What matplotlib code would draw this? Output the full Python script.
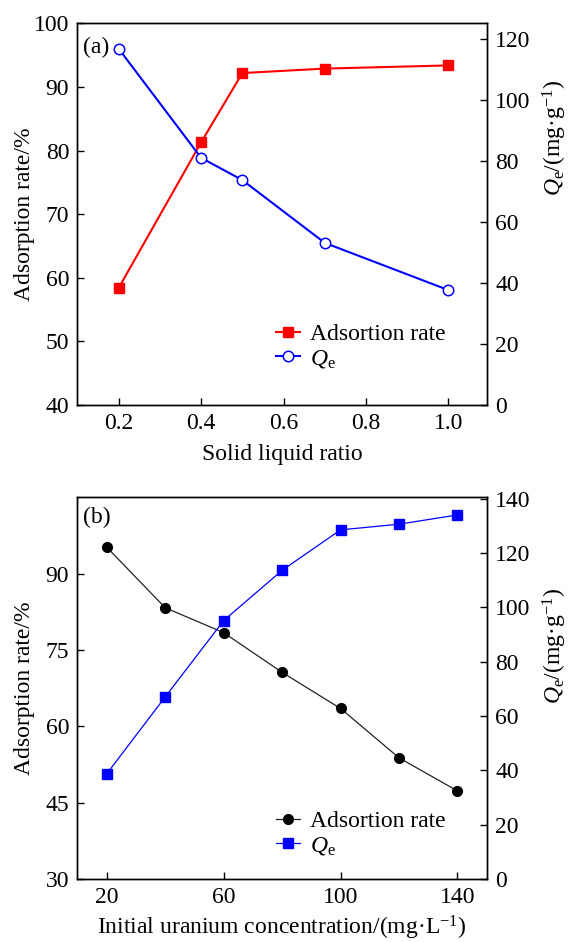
import matplotlib
matplotlib.use("Agg")
import matplotlib.pyplot as plt

plt.rcParams["font.family"] = ["Liberation Serif", "DejaVu Serif"]
plt.rcParams["mathtext.fontset"] = "custom"
plt.rcParams["mathtext.rm"] = "Liberation Serif"
plt.rcParams["mathtext.it"] = "Liberation Serif:italic"
plt.rcParams["font.size"] = 17

# (a) effect of solid-liquid ratio
ratio = [0.2, 0.4, 0.5, 0.7, 1.0]
rate_a = [58.4, 81.3, 92.2, 92.9, 93.4]
qe_a = [116.9, 81.1, 73.8, 53.2, 37.7]

# (b) effect of initial uranium concentration
conc = [20, 40, 60, 80, 100, 120, 140]
rate_b = [95.2, 83.3, 78.4, 70.6, 63.5, 53.8, 47.3]
qe_b = [38.7, 67.0, 95.1, 113.6, 128.5, 130.6, 134.0]

qe_label = r"$Q_\mathrm{e}$/(mg·g$^{-1}$)"
rate_label = "Adsorption rate/%"

fig = plt.figure(figsize=(5.68, 9.42), dpi=100)
ax_a = fig.add_axes([0.1364, 0.5701, 0.7205, 0.4050])
ax_b = fig.add_axes([0.1364, 0.0669, 0.7205, 0.4052])


def style(ax):
    ax.tick_params(direction="in", length=5, width=1, pad=6, labelsize=17)
    for s in ax.spines.values():
        s.set_linewidth(1)


# ---- panel (a)
ax_a2 = ax_a.twinx()
l1, = ax_a.plot(ratio, rate_a, color="red", lw=1.5, marker="s", ms=7,
                label="Adsortion rate")
l2, = ax_a2.plot(ratio, qe_a, color="blue", lw=1.5, marker="o", ms=7.5,
                 mfc="white", mec="blue", mew=1.1, label=r"$Q_\mathrm{e}$")
ax_a.set_xlim(0.1, 1.093)
ax_a.set_ylim(40, 100)
ax_a2.set_ylim(0, 125.2)
ax_a.set_xticks([0.2, 0.4, 0.6, 0.8, 1.0])
ax_a.set_yticks([40, 50, 60, 70, 80, 90, 100])
ax_a2.set_yticks([0, 20, 40, 60, 80, 100, 120])
ax_a.set_xlabel("Solid liquid ratio", labelpad=7)
ax_a.set_ylabel(rate_label)
ax_a2.set_ylabel(qe_label)
ax_a.yaxis.set_label_coords(-0.103, 0.5)
ax_a2.yaxis.set_label_coords(1.133, 0.70)
ax_a.text(0.013, 0.936, "(a)", transform=ax_a.transAxes, va="center", ha="left")
ax_a2.legend([l1, l2], [l1.get_label(), l2.get_label()], loc="upper left",
             bbox_to_anchor=(0.485, 0.214), frameon=False, borderpad=0,
             borderaxespad=0, handlelength=1.0, handletextpad=0.45,
             labelspacing=0.12, fontsize=17)
style(ax_a)
style(ax_a2)

# ---- panel (b)
ax_b2 = ax_b.twinx()
l3, = ax_b.plot(conc, rate_b, color="#222222", lw=0.9, marker="o", ms=7,
                mfc="black", mec="black", label="Adsortion rate")
l4, = ax_b2.plot(conc, qe_b, color="blue", lw=0.9, marker="s", ms=7.5,
                 label=r"$Q_\mathrm{e}$")
ax_b.set_xlim(10, 150)
ax_b.set_ylim(30, 105)
ax_b2.set_ylim(0, 140.5)
ax_b.set_xticks([20, 60, 100, 140])
ax_b.set_yticks([30, 45, 60, 75, 90])
ax_b2.set_yticks([0, 20, 40, 60, 80, 100, 120, 140])
ax_b.set_xlabel(r"Initial uranium concentration/(mg·L$^{-1}$)", labelpad=4)
ax_b.set_ylabel(rate_label)
ax_b2.set_ylabel(qe_label)
ax_b.yaxis.set_label_coords(-0.103, 0.5)
ax_b2.yaxis.set_label_coords(1.133, 0.61)
ax_b.text(0.013, 0.946, "(b)", transform=ax_b.transAxes, va="center", ha="left")
ax_b2.legend([l3, l4], [l3.get_label(), l4.get_label()], loc="upper left",
             bbox_to_anchor=(0.485, 0.180), frameon=False, borderpad=0,
             borderaxespad=0, handlelength=1.0, handletextpad=0.45,
             labelspacing=0.12, fontsize=17)
style(ax_b)
style(ax_b2)

fig.savefig("out.png", dpi=100)
